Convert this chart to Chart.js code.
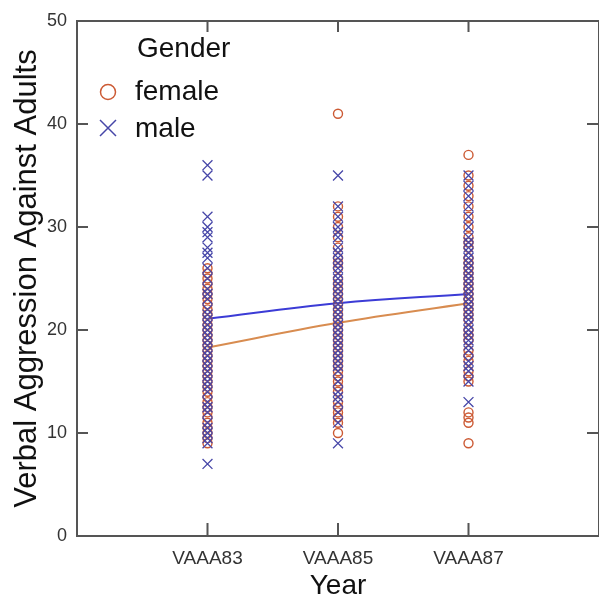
<!DOCTYPE html>
<html>
<head>
<meta charset="utf-8">
<script src="https://cdn.jsdelivr.net/npm/chart.js@4"></script>
<style>
  html, body { margin: 0; padding: 0; background: #fff; }
  #wrap { width: 599px; height: 600px; position: relative; }
</style>
</head>
<body>
<div id="wrap"><canvas id="myChart"></canvas></div>
<script>
"use strict";

const years = ["VAAA83", "VAAA85", "VAAA87"];
const yTicks = [0, 10, 20, 30, 40, 50];

// observed scores per wave (estimated from the dense columns)
const female83 = [9, 9.5, 10, 10.5, 11, 11.5, 12, 12.5, 13, 13.5, 14, 14.5, 15, 15.5, 16, 16.5, 17, 17.5, 18, 18.5, 19, 19.5, 20, 20.5, 21, 21.5, 22, 22.5, 23, 23.5, 24, 24.5, 25, 25.5, 26];
const male83 = [7, 9, 9.5, 10, 10.5, 11, 12, 12.5, 13, 14, 14.5, 15, 15.5, 16, 16.5, 17, 17.5, 18, 18.5, 19, 19.5, 20, 20.5, 21, 21.5, 22, 23, 23.5, 24, 25, 26, 27, 27.5, 28, 29, 29.5, 30, 31, 35, 36];
const female85 = [10, 11, 11.5, 12, 12.5, 13, 14, 14.5, 15, 15.5, 16, 16.5, 17, 17.5, 18, 18.5, 19, 19.5, 20, 20.5, 21, 21.5, 22, 22.5, 23, 23.5, 24, 24.5, 25, 26, 26.5, 27, 28, 29, 30, 31, 32, 41];
const male85 = [9, 11, 12, 13, 13.5, 14, 15, 16, 16.5, 17, 17.5, 18, 18.5, 19, 19.5, 20, 20.5, 21, 21.5, 22, 22.5, 23, 23.5, 24, 24.5, 25, 25.5, 26, 26.5, 27, 27.5, 28, 29, 29.5, 30, 31, 32, 35];
const female87 = [9, 11, 11.5, 12, 15, 15.5, 16, 17, 17.5, 18, 19, 19.5, 20, 21, 21.5, 22, 22.5, 23, 23.5, 24, 24.5, 25, 25.5, 26, 26.5, 27, 28, 28.5, 29, 30, 31, 32, 33, 34, 35, 37];
const male87 = [13, 15, 16, 16.5, 17, 18, 18.5, 19, 19.5, 20, 20.5, 21, 21.5, 22, 22.5, 23, 23.5, 24, 24.5, 25, 25.5, 26, 26.5, 27, 27.5, 28, 28.5, 29, 30, 31, 32, 33, 34, 35];

// fitted trend per gender
const femaleFit = [18.3, 20.7, 22.6];
const maleFit = [21.1, 22.6, 23.5];

const femaleColor = "#cc5a34";
const maleColor = "#4646a8";
const femaleLine = "#d88c50";
const maleLine = "#3c3cd6";
const frameColor = "#555555";
const font = "'Liberation Sans', Arial, sans-serif";

const toPoints = (groups) => {
  const pts = [];
  groups.forEach((vals, i) => vals.forEach((v) => pts.push({ x: i, y: v })));
  return pts;
};

const framePlugin = {
  id: "frame",
  beforeDatasetsDraw(chart) {
    const { ctx, chartArea: a, scales } = chart;
    ctx.save();
    ctx.strokeStyle = frameColor;
    ctx.lineWidth = 2;
    ctx.strokeRect(a.left, a.top, a.right - a.left, a.bottom - a.top);
    ctx.beginPath();
    yTicks.forEach((v) => {
      if (v === 0 || v === 50) return;
      const y = scales.y.getPixelForValue(v);
      ctx.moveTo(a.left, y);
      ctx.lineTo(a.left + 11, y);
      ctx.moveTo(a.right, y);
      ctx.lineTo(a.right - 12, y);
    });
    years.forEach((_, i) => {
      const x = scales.x.getPixelForValue(i);
      ctx.moveTo(x, a.bottom);
      ctx.lineTo(x, a.bottom - 13);
      ctx.moveTo(x, a.top);
      ctx.lineTo(x, a.top + 11);
    });
    ctx.stroke();
    ctx.restore();
  },
  afterDraw(chart) {
    const { ctx } = chart;
    ctx.save();
    ctx.fillStyle = "#111";
    ctx.font = "28px " + font;
    ctx.textBaseline = "alphabetic";
    ctx.fillText("Gender", 137, 57);
    ctx.fillText("female", 135, 100);
    ctx.fillText("male", 135, 137);
    ctx.lineWidth = 1.5;
    ctx.strokeStyle = femaleColor;
    ctx.beginPath();
    ctx.arc(108, 92, 7.5, 0, Math.PI * 2);
    ctx.stroke();
    ctx.strokeStyle = maleColor;
    ctx.beginPath();
    ctx.moveTo(100, 120);
    ctx.lineTo(116, 136);
    ctx.moveTo(116, 120);
    ctx.lineTo(100, 136);
    ctx.stroke();
    ctx.restore();
  },
};

const data = {
  datasets: [
    {
      type: "scatter",
      label: "male",
      data: toPoints([male83, male85, male87]),
      pointStyle: "crossRot",
      pointRadius: 7,
      pointBorderWidth: 1.3,
      borderColor: maleColor,
      backgroundColor: maleColor,
    },
    {
      type: "scatter",
      label: "female",
      data: toPoints([female83, female85, female87]),
      pointStyle: "circle",
      pointRadius: 4.5,
      pointBorderWidth: 1.4,
      borderColor: femaleColor,
      backgroundColor: "rgba(0,0,0,0)",
    },
    {
      type: "line",
      label: "male fit",
      data: maleFit.map((v, i) => ({ x: i, y: v })),
      borderColor: maleLine,
      borderWidth: 2,
      pointRadius: 0,
      tension: 0.4,
      fill: false,
    },
    {
      type: "line",
      label: "female fit",
      data: femaleFit.map((v, i) => ({ x: i, y: v })),
      borderColor: femaleLine,
      borderWidth: 2,
      pointRadius: 0,
      tension: 0.4,
      fill: false,
    },
  ],
};

const config = {
  type: "scatter",
  data: data,
  options: {
    responsive: true,
    maintainAspectRatio: false,
    animation: false,
    layout: {
      autoPadding: false,
      padding: { top: 21, right: 0, left: 0, bottom: 0 },
    },
    scales: {
      x: {
        type: "linear",
        min: -1,
        max: 3,
        afterBuildTicks: (scale) => {
          scale.ticks = years.map((_, i) => ({ value: i }));
        },
        afterFit: (scale) => {
          scale.height = 64;
          scale.paddingLeft = 0;
          scale.paddingRight = 0;
        },
        grid: { display: false, drawTicks: false },
        border: { display: false },
        ticks: {
          padding: 11,
          color: "#333",
          font: { size: 19, family: font },
          callback: (v) => years[v] ?? "",
          maxRotation: 0,
        },
        title: {
          display: true,
          text: "Year",
          color: "#111",
          font: { size: 28, family: font, lineHeight: 1 },
          padding: { top: 0, bottom: 0 },
        },
      },
      y: {
        min: 0,
        max: 50,
        afterBuildTicks: (scale) => {
          scale.ticks = yTicks.map((v) => ({ value: v }));
        },
        afterFit: (scale) => {
          scale.width = 77;
        },
        grid: { display: false, drawTicks: false },
        border: { display: false },
        ticks: {
          padding: 10,
          color: "#333",
          font: { size: 18, family: font },
        },
        title: {
          display: true,
          text: "Verbal Aggression Against Adults",
          color: "#111",
          font: { size: 31, family: font, lineHeight: 1 },
          padding: { top: 12, bottom: 0 },
        },
      },
    },
    plugins: {
      legend: { display: false },
      tooltip: { enabled: false },
    },
  },
  plugins: [framePlugin],
};

const myChart = new Chart(document.getElementById("myChart"), config);
</script>
</body>
</html>
